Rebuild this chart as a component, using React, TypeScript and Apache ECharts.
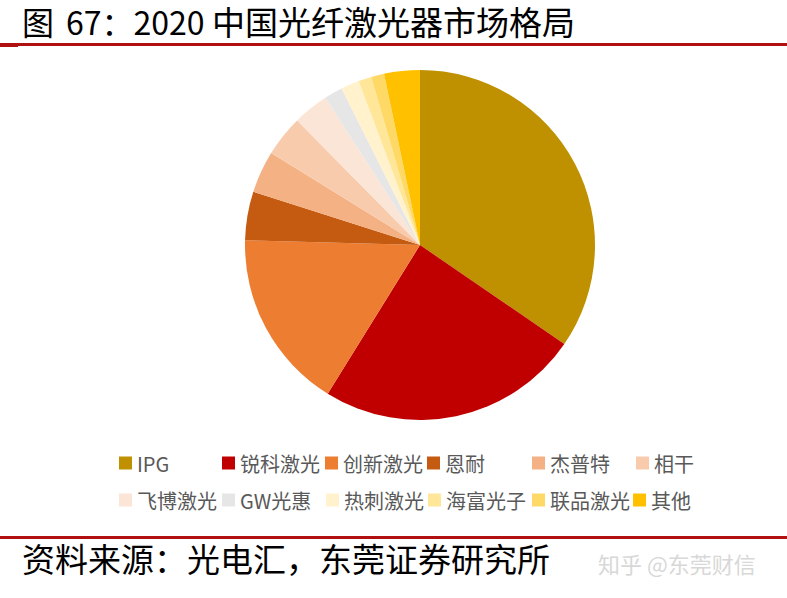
import React, { useEffect, useRef } from "react";
import * as echarts from "echarts";

const titleParts = ["图", "67：2020", "中国光纤激光器市场格局"];
const sourceText = "资料来源：光电汇，东莞证券研究所";
const categories = ["IPG", "锐科激光", "创新激光", "恩耐", "杰普特", "相干", "飞博激光", "GW光惠", "热刺激光", "海富光子", "联品激光", "其他"];
const shares = [34.6, 24.3, 16.6, 4.5, 3.9, 3.8, 3.3, 1.7, 1.7, 1.2, 1.2, 3.3];
const colors = ["#BF9000", "#C00000", "#ED7D31", "#C55A11", "#F4B183", "#F8CBAD", "#FBE5D6", "#E7E6E6", "#FFF2CC", "#FFE699", "#FFD966", "#FFC000"];

const CJK = "'Noto Sans CJK SC', 'Noto Sans', sans-serif";

export default function App() {
  const ref = useRef<HTMLDivElement>(null);
  useEffect(() => {
    if (!ref.current) return;
    const chart = echarts.init(ref.current, undefined, { renderer: "svg" });
    const colX = [119, 222, 325, 427, 532, 636, 119, 222, 326, 428, 532, 633];
    const rowY = [453, 490];
    const legends = categories.map((name, i) => ({
      data: [name],
      left: colX[i],
      top: rowY[Math.floor(i / 6)],
      orient: "horizontal",
      icon: "rect",
      itemWidth: 13,
      itemHeight: 13,
      padding: 0,
      selectedMode: false,
      textStyle: { fontSize: 20, color: "#595959", fontFamily: CJK },
    }));
    const titleX = [22, 66, 212];
    const titleSize = [32, 32, 33];
    chart.setOption({
      animation: false,
      color: colors,
      legend: legends,
      graphic: [
        ...titleParts.map((t, i) => ({
          type: "text",
          left: titleX[i],
          top: i === 2 ? 4 : 5,
          style: { text: t, font: `${titleSize[i]}px ${CJK}`, fill: "#000" },
        })),
        { type: "rect", shape: { x: 0, y: 43, width: 787, height: 3 }, style: { fill: "#B01010" } },
        { type: "rect", shape: { x: 0, y: 45, width: 18, height: 2 }, style: { fill: "#B01010" } },
        { type: "rect", shape: { x: 0, y: 536, width: 787, height: 3 }, style: { fill: "#B01010" } },
        {
          type: "text",
          left: 22,
          top: 541,
          style: { text: sourceText, font: `33px ${CJK}`, fill: "#000" },
        },
        {
          type: "text",
          left: 598,
          top: 552,
          style: { text: "知乎 @东莞财信", font: `22px ${CJK}`, fill: "#D8D8D8" },
        },
      ],
      series: [
        {
          type: "pie",
          center: [420, 245],
          radius: 175,
          startAngle: 90,
          clockwise: true,
          label: { show: false },
          labelLine: { show: false },
          emphasis: { disabled: true },
          itemStyle: { borderWidth: 0 },
          data: categories.map((name, i) => ({ name, value: shares[i] })),
        },
      ],
    });
    return () => chart.dispose();
  }, []);
  return (
    <div
      ref={ref}
      style={{ position: "fixed", left: 0, top: 0, width: 787, height: 598, background: "#fff" }}
    />
  );
}
